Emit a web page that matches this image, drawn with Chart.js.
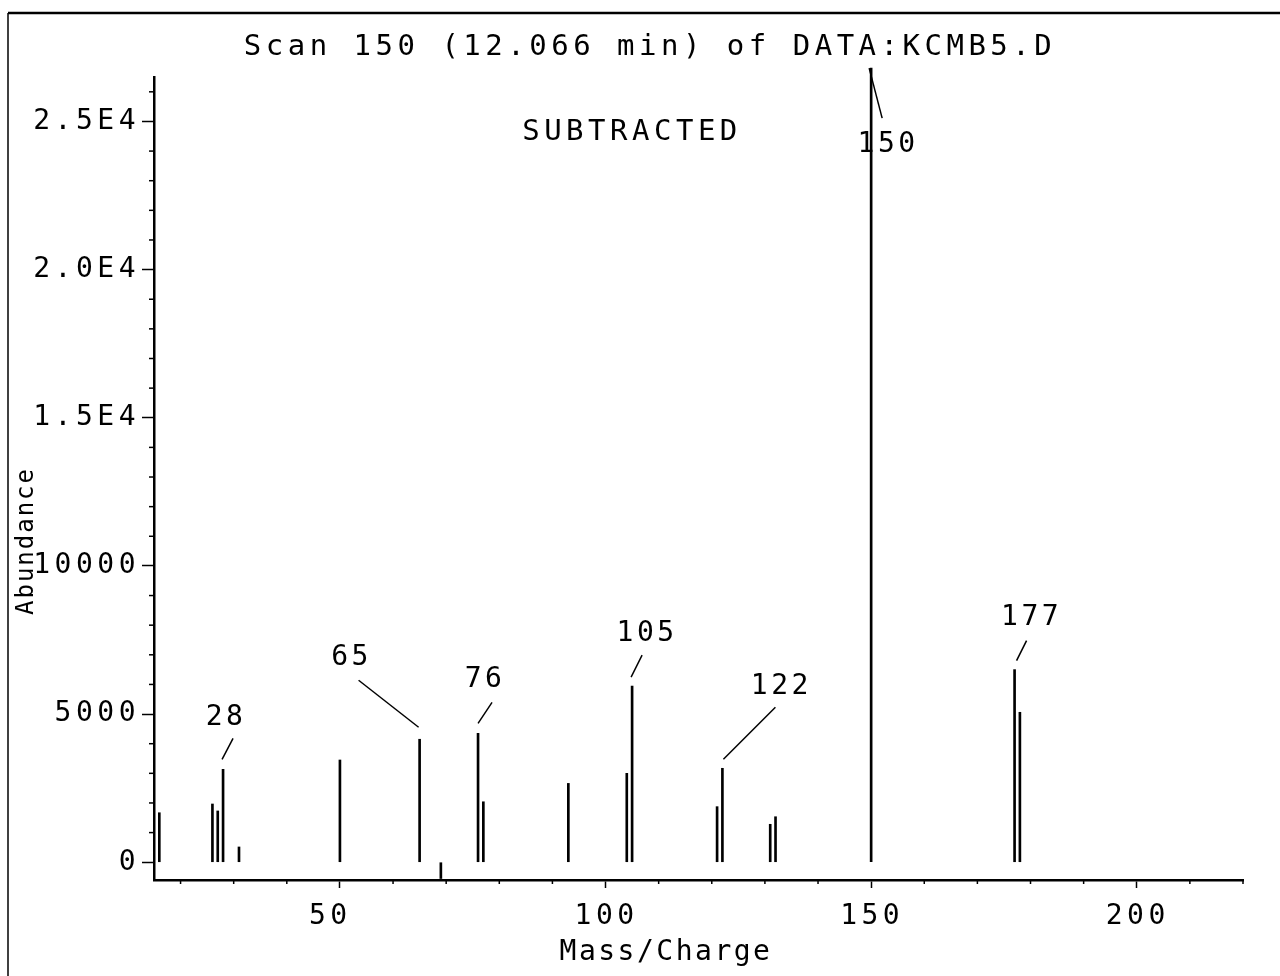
<!DOCTYPE html>
<html>
<head>
<meta charset="utf-8">
<script src="https://cdn.jsdelivr.net/npm/chart.js@4.4.1/dist/chart.umd.min.js"></script>
<style>
html,body{margin:0;padding:0;background:#fff;}
canvas{display:block;}
</style>
</head>
<body>
<canvas id="c" width="1280" height="976"></canvas>
<script>
// ---- data ----
const masses     = [16, 26, 27, 28, 31, 50, 65, 69, 76, 77, 93, 104, 105, 121, 122, 131, 132, 150, 177, 178];
const abundances = [1670, 1965, 1730, 3135, 515, 3450, 4150, -550, 4350, 2040, 2660, 3000, 5945, 1875, 3170, 1280, 1535, 26800, 6500, 5060];
const labeledMasses = [28, 65, 76, 105, 122, 150, 177];
const xTickValues = [50, 100, 150, 200];
const yTickValues = [0, 5000, 10000, 15000, 20000, 25000];
const yTickText   = ['0', '5000', '10000', '1.5E4', '2.0E4', '2.5E4'];
const titleText  = 'Scan 150 (12.066 min) of DATA:KCMB5.D';
const noteText   = 'SUBTRACTED';
const xAxisTitle = 'Mass/Charge';
const yAxisTitle = 'Abundance';

// ---- styling ----
const FONT = "'DejaVu Sans Mono', 'Liberation Mono', monospace";
// offsets (pixels) of annotation text and leader line relative to the bar top
const peakLabelStyle = {
  28:  {t: [3, -52],  a: [-1, -10], b: [10, -31]},
  65:  {t: [-68, -82], a: [-1, -12], b: [-61, -59]},
  76:  {t: [7, -54],  a: [0, -10],  b: [14, -31]},
  105: {t: [15, -52], a: [-1, -9],  b: [10, -31]},
  122: {t: [59, -82], a: [1, -9],   b: [53, -61]},
  150: {t: [17, 77],  a: [-2, 0],   b: [11, 50]},
  177: {t: [17, -52], a: [2, -9],   b: [12, -29]}
};

function txt(ctx, s, x, y, size, spacing, align, baseline, rot) {
  ctx.save();
  ctx.font = size + 'px ' + FONT;
  ctx.letterSpacing = spacing + 'px';
  ctx.fillStyle = '#000';
  ctx.textAlign = align;
  ctx.textBaseline = baseline;
  ctx.translate(x, y);
  if (rot) ctx.rotate(rot);
  ctx.fillText(s, 0, 0);
  ctx.restore();
}

const plotterPlugin = {
  id: 'plotter',
  beforeLayout(chart) { chart.ctx.letterSpacing = '4.5px'; },
  afterLayout(chart) {
    // widen the y-axis label clip box to the left edge so long tick labels are not cut
    chart.scales.y.left = 12;
  },
  beforeDraw(chart) {
    const ctx = chart.ctx;
    ctx.letterSpacing = '4.5px';
    ctx.save();
    ctx.strokeStyle = '#000';
    ctx.lineWidth = 2.5;
    ctx.beginPath(); ctx.moveTo(8, 13); ctx.lineTo(chart.width, 13); ctx.stroke();
    ctx.lineWidth = 1.5;
    ctx.beginPath(); ctx.moveTo(8, 13); ctx.lineTo(8, chart.height); ctx.stroke();
    ctx.restore();
  },
  afterDraw(chart) {
    const {ctx, chartArea: ca} = chart;
    const xs = chart.scales.x, ys = chart.scales.y;
    ctx.save();
    ctx.strokeStyle = '#000';
    ctx.lineWidth = 1.5;
    // minor ticks
    for (let v = 1000; v <= ys.max; v += 1000) {
      if (v % 5000 === 0) continue;
      const p = ys.getPixelForValue(v);
      ctx.beginPath(); ctx.moveTo(ca.left - 5, p); ctx.lineTo(ca.left, p); ctx.stroke();
    }
    for (let m = 20; m <= xs.max; m += 10) {
      if (m % 50 === 0) continue;
      const p = xs.getPixelForValue(m);
      ctx.beginPath(); ctx.moveTo(p, ca.bottom); ctx.lineTo(p, ca.bottom + 4); ctx.stroke();
    }
    // peak annotations
    labeledMasses.forEach(m => {
      const i = masses.indexOf(m);
      const bx = xs.getPixelForValue(m), by = ys.getPixelForValue(abundances[i]);
      const s = peakLabelStyle[m];
      ctx.beginPath();
      ctx.moveTo(bx + s.a[0], by + s.a[1]);
      ctx.lineTo(bx + s.b[0], by + s.b[1]);
      ctx.stroke();
      txt(ctx, String(m), bx + s.t[0], by + s.t[1], 28, 3.5, 'center', 'middle');
    });
    ctx.restore();
    // texts
    txt(ctx, noteText, ca.left + 478, ca.top + 63, 29, 4.5, 'center', 'alphabetic');
    txt(ctx, xAxisTitle, ca.left + 512, ca.bottom + 80, 28, 2.5, 'center', 'alphabetic');
    txt(ctx, yAxisTitle, ca.left - 121, ca.top + 464, 24, 2, 'center', 'alphabetic', -Math.PI / 2);
  }
};

const tickFont = {family: FONT, size: 28, weight: 'normal'};

new Chart(document.getElementById('c'), {
  type: 'bar',
  data: {
    datasets: [{
      data: masses.map((m, i) => ({x: m, y: abundances[i]})),
      backgroundColor: '#000',
      borderWidth: 0,
      barThickness: 2,
      clip: false
    }]
  },
  options: {
    responsive: false,
    animation: false,
    layout: {padding: {left: 57, right: 37, top: 0, bottom: 0}},
    plugins: {
      legend: {display: false},
      tooltip: {enabled: false},
      title: {
        display: true,
        text: titleText,
        color: '#000',
        font: {family: FONT, size: 29, weight: 'normal', lineHeight: 1.2},
        padding: {top: 30, bottom: 12.2}
      }
    },
    scales: {
      x: {
        type: 'linear',
        min: 15,
        max: 220,
        offset: false,
        afterBuildTicks: s => { s.ticks = xTickValues.map(v => ({value: v})); },
        afterFit: s => { s.height = 96; },
        border: {display: true, color: '#000', width: 2.5},
        grid: {display: true, offset: false, drawOnChartArea: false, drawTicks: true, tickLength: 8, tickColor: '#000', tickWidth: 1.5},
        ticks: {
          autoSkip: false, maxRotation: 0,
          color: '#000', font: tickFont, padding: 12, align: 'start', labelOffset: -31
        }
      },
      y: {
        min: -600,
        max: 26500,
        afterBuildTicks: s => { s.ticks = yTickValues.map(v => ({value: v})); },
        afterFit: s => { s.width = 97; },
        border: {display: true, color: '#000', width: 2.5},
        grid: {display: true, drawOnChartArea: false, drawTicks: true, tickLength: 12, tickColor: '#000', tickWidth: 1.5},
        ticks: {
          autoSkip: false,
          color: '#000', font: tickFont, padding: 2,
          callback: v => { const k = yTickValues.indexOf(v); return k >= 0 ? yTickText[k] : ''; }
        }
      }
    }
  },
  plugins: [plotterPlugin]
});
</script>
</body>
</html>
